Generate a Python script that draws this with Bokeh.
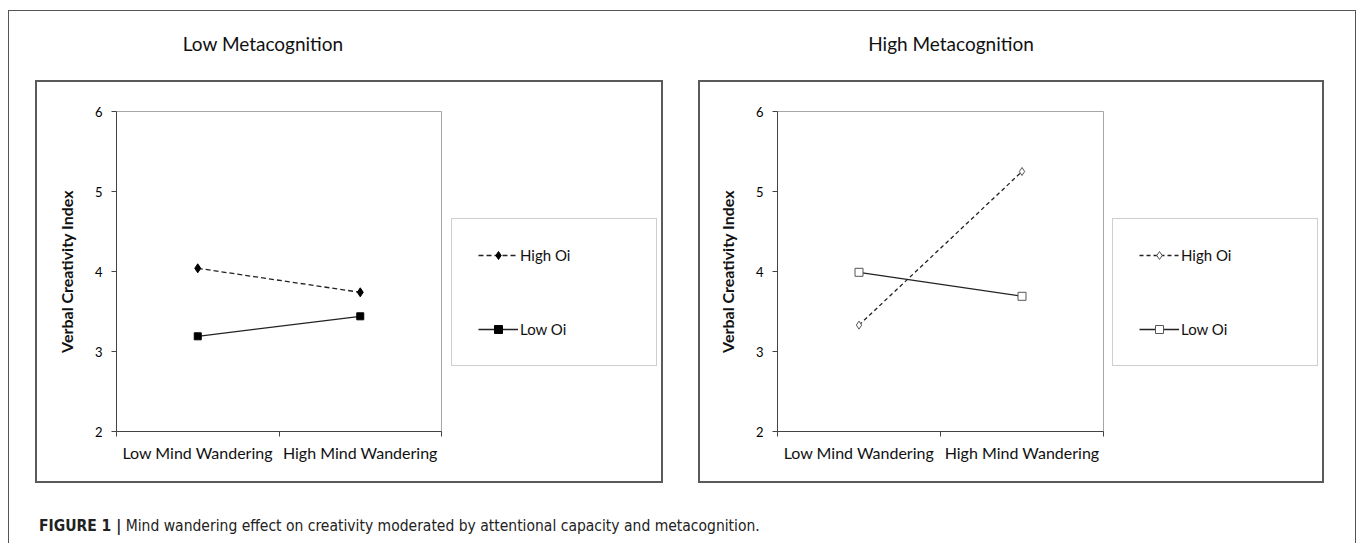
from bokeh.plotting import figure
from bokeh.models import Range1d, FixedTicker, Legend, LegendItem, Div, ColumnDataSource
from bokeh.layouts import column, row
from bokeh.embed import file_html
from bokeh.resources import INLINE

# ---------------- data ----------------
categories = ["Low Mind Wandering", "High Mind Wandering"]
y_ticks = [2, 3, 4, 5, 6]
panel_titles = ["Low Metacognition", "High Metacognition"]
series_names = ["High Oi", "Low Oi"]
low_meta_high_oi = [4.04, 3.74]
low_meta_low_oi = [3.19, 3.44]
high_meta_high_oi = [3.33, 5.25]
high_meta_low_oi = [3.99, 3.69]
y_label = "Verbal Creativity Index"
caption_bold = "FIGURE 1 |"
caption_text = "Mind wandering effect on creativity moderated by attentional capacity and metacognition."

FONT = "Lato"
xs = [i + 0.5 for i in range(len(categories))]
boundaries = list(range(len(categories) + 1))
INNER_H = 399


def add_series(p, src_h, src_l, open_markers, dash, visible=True):
    if open_markers:
        fill, mcol = "white", "#555555"
        dsize, ssize = 8, 8
    else:
        fill, mcol = "#000000", "#000000"
        dsize, ssize = 9, 7
    lh = p.line("x", "y", source=src_h, line_color="#222222", line_width=1.3,
                line_dash=dash, visible=visible)
    sh = p.scatter("x", "y", source=src_h, marker="diamond", size=dsize,
                   fill_color=fill, line_color=mcol, line_width=1, visible=visible)
    ll = p.line("x", "y", source=src_l, line_color="#222222", line_width=1.3, visible=visible)
    sl = p.scatter("x", "y", source=src_l, marker="square", size=ssize,
                   fill_color=fill, line_color=mcol, line_width=1, visible=visible)
    return lh, sh, ll, sl


def make_panel(high, low, open_markers, inner_w, left_border, frame_w, dash, legend_x):
    src_h = ColumnDataSource(dict(x=xs, y=high))
    src_l = ColumnDataSource(dict(x=xs, y=low))

    plot_w = left_border + frame_w + 1
    p = figure(width=plot_w, height=INNER_H,
               x_range=Range1d(0, len(categories)), y_range=Range1d(y_ticks[0], y_ticks[-1]),
               output_backend="svg", toolbar_location=None,
               min_border_left=left_border, min_border_right=1,
               min_border_top=29, min_border_bottom=50)
    p.background_fill_color = "white"
    p.border_fill_color = "white"
    p.outline_line_color = "#a6a6a6"
    p.outline_line_width = 1
    p.xgrid.visible = False
    p.ygrid.visible = False

    ya = p.yaxis[0]
    ya.ticker = FixedTicker(ticks=y_ticks, minor_ticks=[])
    ya.major_tick_in = 0
    ya.major_tick_out = 5
    ya.minor_tick_line_color = None
    ya.axis_line_color = "#444444"
    ya.major_tick_line_color = "#444444"
    ya.major_label_text_font = FONT
    ya.major_label_text_font_size = "13px"
    ya.major_label_text_color = "#000000"
    ya.major_label_standoff = 9
    ya.axis_label = y_label
    ya.axis_label_text_font = FONT
    ya.axis_label_text_font_style = "bold"
    ya.axis_label_text_font_size = "16px"
    ya.axis_label_text_color = "#111111"
    ya.axis_label_standoff = 16

    xa = p.xaxis[0]
    xa.ticker = FixedTicker(ticks=xs, minor_ticks=boundaries)
    xa.major_tick_in = 0
    xa.major_tick_out = 0
    xa.minor_tick_in = 0
    xa.minor_tick_out = 5
    xa.minor_tick_line_color = "#444444"
    xa.axis_line_color = "#444444"
    xa.major_label_overrides = {x: c for x, c in zip(xs, categories)}
    xa.major_label_text_font = FONT
    xa.major_label_text_font_size = "16px"
    xa.major_label_text_color = "#111111"
    xa.major_label_standoff = 6

    add_series(p, src_h, src_l, open_markers, dash)

    # legend area (separate canvas so the legend is not clipped by the plot frame)
    leg_w = inner_w - plot_w
    q = figure(width=leg_w, height=INNER_H, x_range=Range1d(0, len(categories)),
               y_range=Range1d(y_ticks[0], y_ticks[-1]),
               output_backend="svg", toolbar_location=None,
               x_axis_location=None, y_axis_location=None,
               min_border_left=0, min_border_right=0, min_border_top=0, min_border_bottom=0)
    q.outline_line_color = None
    q.xgrid.visible = False
    q.ygrid.visible = False
    q.background_fill_color = "white"
    q.border_fill_color = "white"
    lh, sh, ll, sl = add_series(q, src_h, src_l, open_markers, dash, visible=False)

    legend = Legend(items=[LegendItem(label=series_names[0], renderers=[lh, sh]),
                           LegendItem(label=series_names[1], renderers=[ll, sl])],
                    location=(legend_x, 65), orientation="vertical",
                    glyph_width=40, glyph_height=20, label_height=20, label_width=110,
                    label_standoff=2, padding=26, spacing=54, margin=0,
                    border_line_color="#a0a0a0", border_line_width=1,
                    background_fill_color="white", background_fill_alpha=1,
                    inactive_fill_alpha=0,
                    label_text_font=FONT, label_text_font_size="15px",
                    label_text_color="#111111")
    q.add_layout(legend, "center")

    box = row(p, q, width=inner_w + 4, height=INNER_H + 4,
              styles={"border": "2px solid #5a5a5a", "background": "white"})
    return box


left = make_panel(low_meta_high_oi, low_meta_low_oi, False, 624, 79, 325, "5 3", 9)
right = make_panel(high_meta_high_oi, high_meta_low_oi, True, 622, 77, 326, "4 3", 8)
left.margin = (0, 0, 0, 26)
right.margin = (0, 0, 0, 35)

header_html = (
    f'<div style="position:relative;width:1346px;height:69px;font-family:{FONT};'
    f'font-size:19px;color:#111;">'
    f'<span style="position:absolute;left:254px;top:33px;transform:translate(-50%,-50%);'
    f'white-space:nowrap;">{panel_titles[0]}</span>'
    f'<span style="position:absolute;left:942px;top:33px;transform:translate(-50%,-50%);'
    f'white-space:nowrap;">{panel_titles[1]}</span></div>'
)
header = Div(text=header_html, width=1346, height=69, margin=0)

caption_html = (
    f'<div style="padding-left:30px;padding-top:34px;line-height:18px;'
    f'font-family:\'Liberation Sans Narrow\',\'DejaVu Sans Condensed\',\'Liberation Sans\',sans-serif;'
    f'font-stretch:condensed;font-size:15.5px;color:#222;white-space:nowrap;">'
    f'<b>{caption_bold}</b> {caption_text}</div>'
)
caption = Div(text=caption_html, width=1346, height=60, margin=0)

panels = row(left, right, margin=0)
page = column(header, panels, caption, margin=(10, 0, 0, 8),
              styles={"border-left": "1px solid #555", "border-top": "1px solid #555",
                      "border-right": "1px solid #555"})

with open("out.html", "w") as f:
    f.write(file_html(page, INLINE))
